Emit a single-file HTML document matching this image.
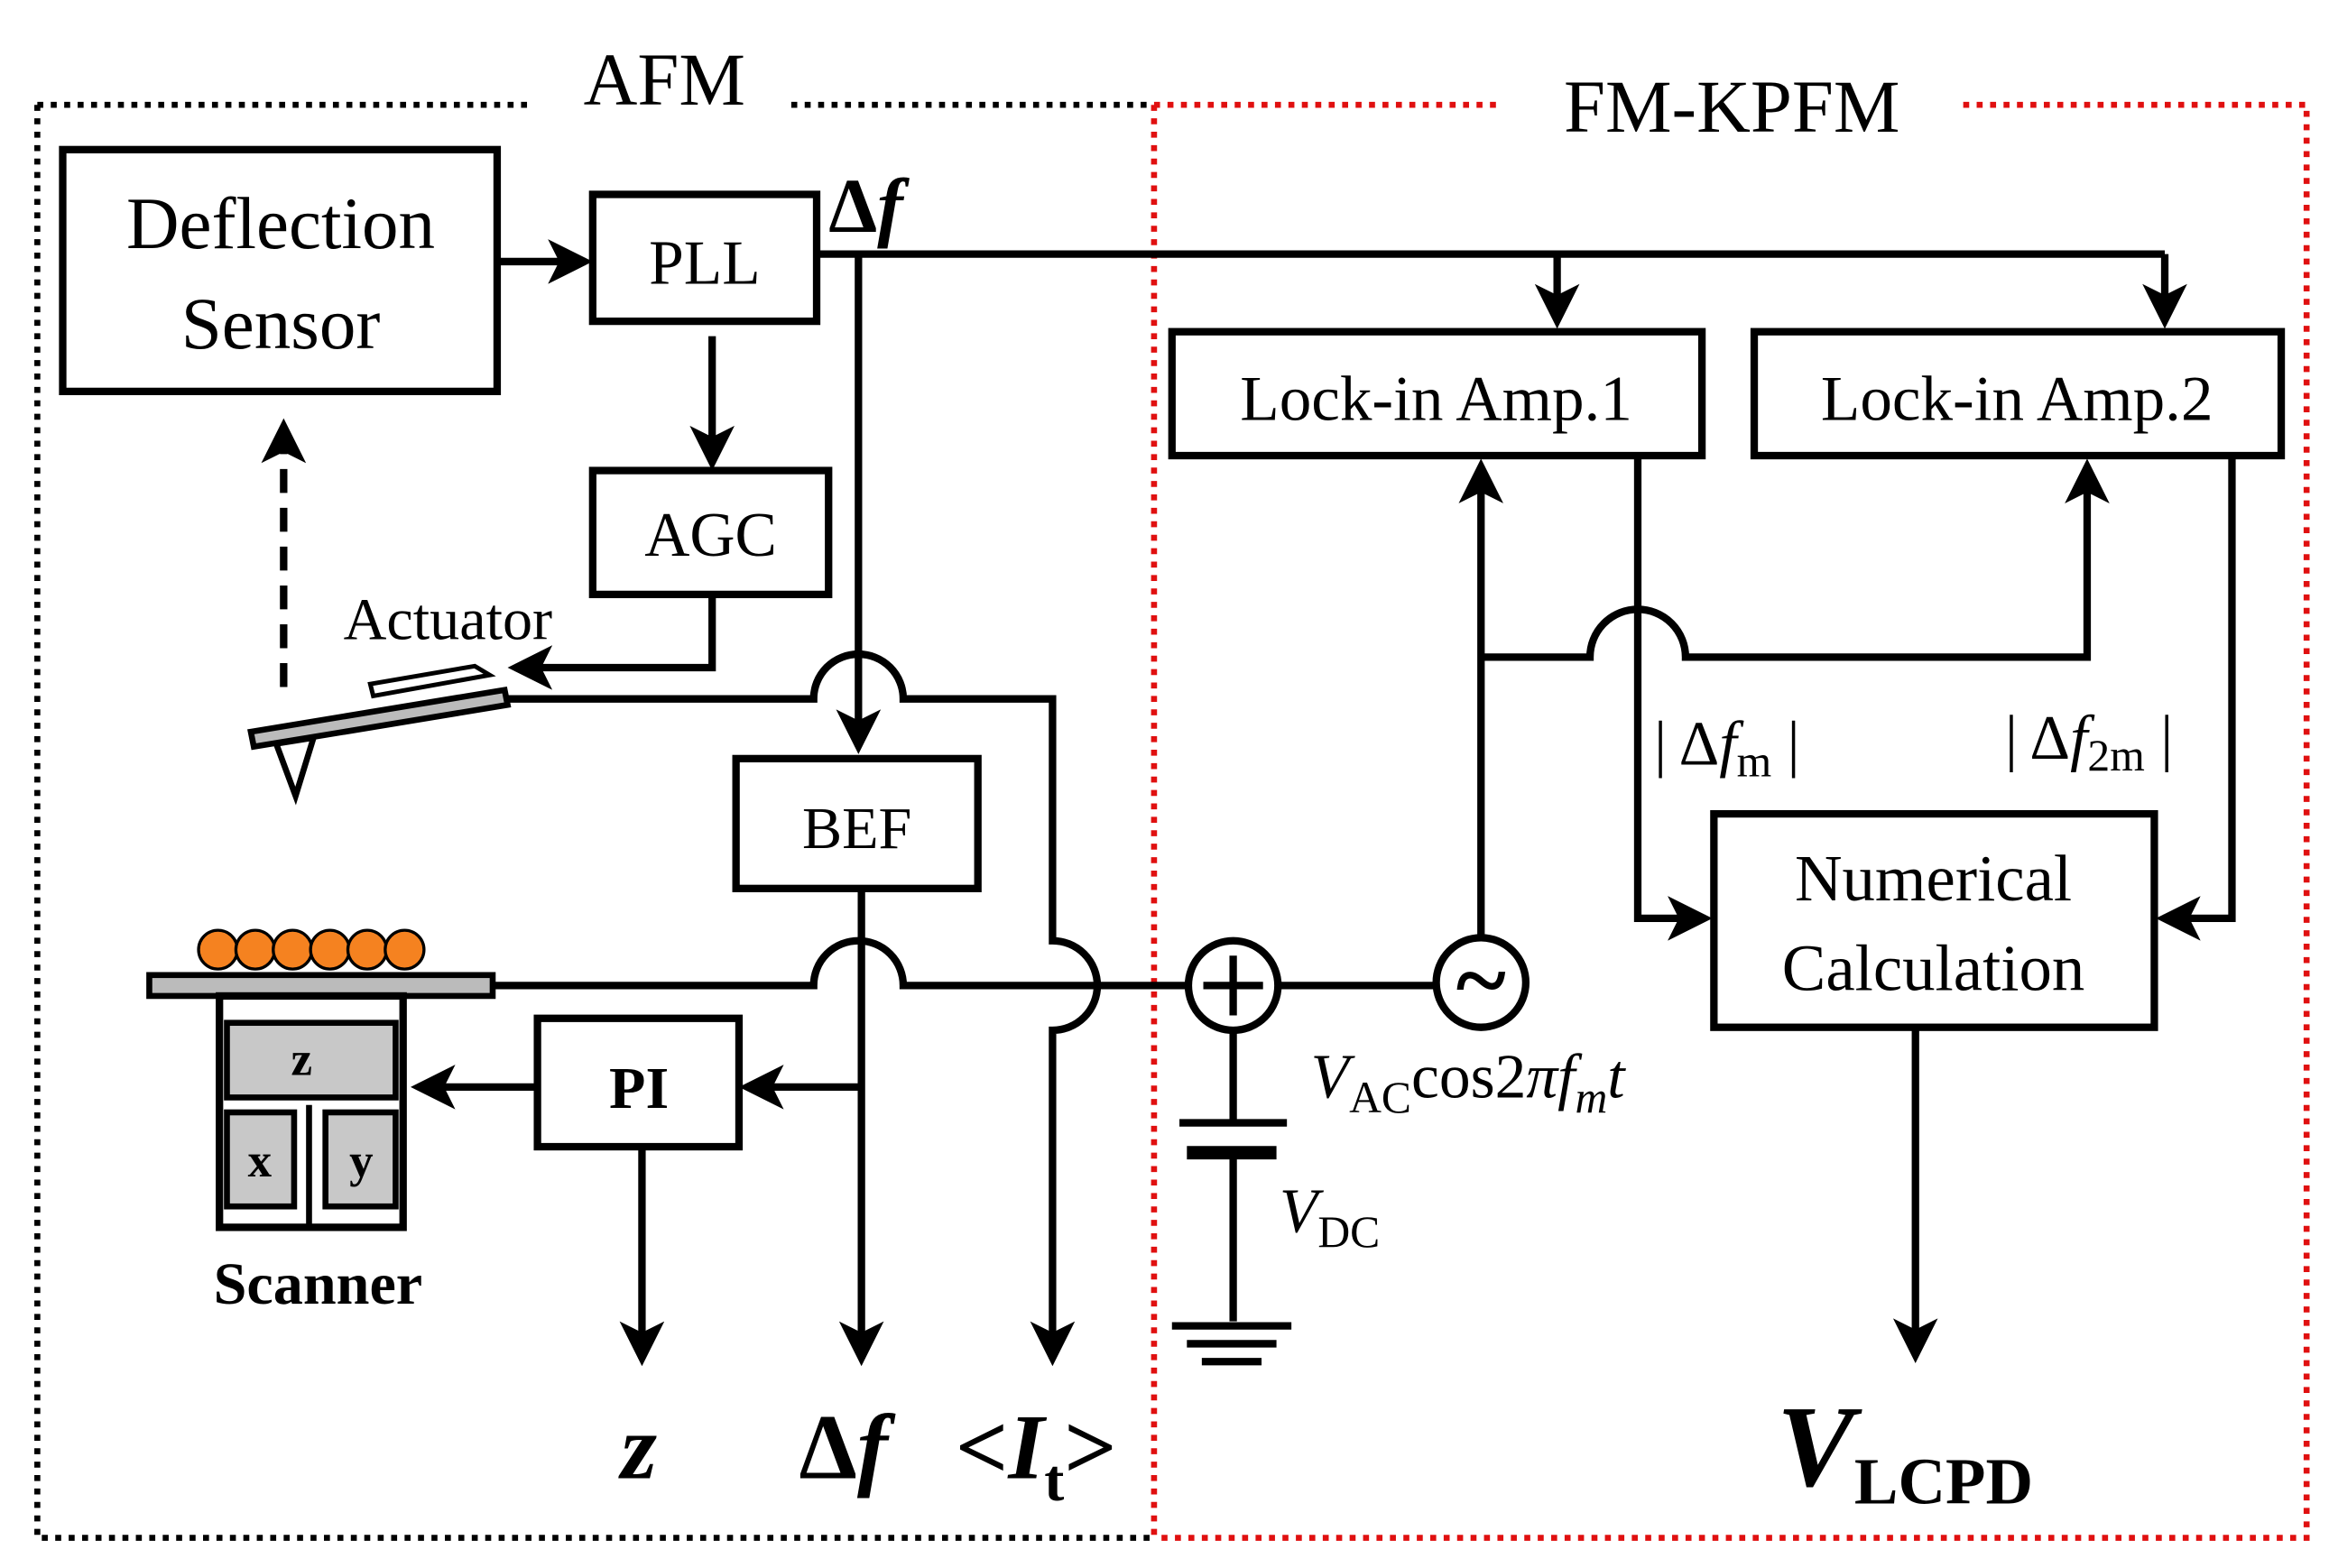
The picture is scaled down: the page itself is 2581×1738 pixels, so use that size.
<!DOCTYPE html>
<html><head><style>html,body{margin:0;padding:0;background:#fff}svg{display:block}</style></head>
<body>
<svg width="2581" height="1738" viewBox="0 0 1560 1050" xmlns="http://www.w3.org/2000/svg" font-family="Liberation Serif, serif">
<defs>
<marker id="a" markerWidth="6" markerHeight="6" refX="5" refY="3" orient="auto" markerUnits="strokeWidth"><path d="M0,0 L6,3 L0,6 L1.5,3 z" fill="#000"/></marker>
</defs>
<rect width="1560" height="1050" fill="#fff"/>
<g stroke="#000" stroke-width="4" stroke-dasharray="4,5" fill="none">
<path d="M25,70 H355 M530,70 H773 M25,70 V1030 H773"/>
</g>
<g stroke="#e01010" stroke-width="4" stroke-dasharray="4,5" fill="none">
<path d="M773,70 H1005 M1315,70 H1545 V1030 H773 M773,70 V1030"/>
</g>
<text x="445" y="70" font-size="50" text-anchor="middle">AFM</text>
<text x="1160" y="88" font-size="50" text-anchor="middle">FM-KPFM</text>

<g stroke="#000" stroke-width="5" fill="none">
<rect x="42" y="100" width="291" height="162"/>
<rect x="397" y="130" width="150" height="85"/>
<rect x="397" y="315" width="158" height="83"/>
<rect x="493" y="508" width="162" height="87"/>
<rect x="360" y="682" width="135" height="86"/>
<rect x="785" y="222" width="355" height="83"/>
<rect x="1175" y="222" width="353" height="83"/>
<rect x="1148" y="545" width="295" height="143"/>
</g>
<g font-size="49" text-anchor="middle">
<text x="188" y="166">Deflection</text>
<text x="188" y="233">Sensor</text>
</g>
<text x="472" y="190" font-size="42" text-anchor="middle">PLL</text>
<text x="476" y="372" font-size="42" text-anchor="middle">AGC</text>
<text x="574" y="568" font-size="40" text-anchor="middle">BEF</text>
<text x="428" y="742" font-size="40" font-weight="bold" text-anchor="middle">PI</text>
<text x="962" y="281" font-size="43" text-anchor="middle">Lock-in Amp.1</text>
<text x="1351" y="281" font-size="43" text-anchor="middle">Lock-in Amp.2</text>
<text x="1295" y="603" font-size="44" text-anchor="middle">Numerical</text>
<text x="1295" y="663" font-size="44" text-anchor="middle">Calculation</text>
<text x="300" y="428" font-size="40" text-anchor="middle">Actuator</text>
<text x="555" y="155" font-size="52" font-weight="bold">Δ<tspan font-style="italic">f</tspan></text>

<g stroke="#000" stroke-width="5" fill="none">
<path d="M333,175 H392" marker-end="url(#a)"/>
<path d="M547,170 H1450"/>
<path d="M1043,170 V215" marker-end="url(#a)"/>
<path d="M1450,170 V215" marker-end="url(#a)"/>
<path d="M575,170 V500" marker-end="url(#a)"/>
<path d="M477,225 V310" marker-end="url(#a)"/>
<path d="M477,398 V447 H345" marker-end="url(#a)"/>
<path d="M190,460 V285" stroke-dasharray="16,10" marker-end="url(#a)"/>
<path d="M340,468 H545 A30,30 0 0 1 605,468 H705 V630 A30,30 0 0 1 705,690 V910" marker-end="url(#a)"/>
<path d="M330,660 H545 A30,30 0 0 1 605,660 H796"/>
<path d="M577,595 V910" marker-end="url(#a)"/>
<path d="M577,728 H500" marker-end="url(#a)"/>
<path d="M360,728 H280" marker-end="url(#a)"/>
<path d="M430,768 V910" marker-end="url(#a)"/>
<circle cx="826" cy="660" r="30"/>
<path d="M826,640 V680 M806,660 H846"/>
<path d="M856,660 H962"/>
<circle cx="992" cy="658" r="30"/>
<path d="M992,628 V312" marker-end="url(#a)"/>
<path d="M992,440 H1065 A32,32 0 0 1 1129,440 H1398 V312" marker-end="url(#a)"/>
<path d="M1097,305 V615 H1142" marker-end="url(#a)"/>
<path d="M1495,305 V615 H1449" marker-end="url(#a)"/>
<path d="M1283,688 V908" marker-end="url(#a)"/>
<path d="M826,690 V752 M790,752 H862 M826,772 V885 M785,888 H865 M795,900 H855 M805,912 H845"/>
<path d="M795,772 H855" stroke-width="9"/>
</g>
<text x="992" y="678" font-size="64" text-anchor="middle" font-weight="bold">~</text>
<g stroke="#000" stroke-width="4">
<polygon points="168,490 338,462 340,472 170,500" fill="#bbb"/>
<polygon points="185,498 210,494 198,533" fill="#fff"/>
<polygon points="248,458 318,446 328,452 250,466" fill="#fff" stroke-width="3"/>
</g>
<rect x="100" y="653" width="230" height="14" fill="#bbb" stroke="#000" stroke-width="4"/>
<g fill="#f58220" stroke="#000" stroke-width="2">
<circle cx="146" cy="636" r="13"/><circle cx="171" cy="636" r="13"/><circle cx="196" cy="636" r="13"/><circle cx="221" cy="636" r="13"/><circle cx="246" cy="636" r="13"/><circle cx="271" cy="636" r="13"/>
</g>
<g stroke="#000" stroke-width="5" fill="#fff">
<rect x="147" y="667" width="123" height="155"/>
</g>
<g stroke="#000" stroke-width="4" fill="#c8c8c8">
<rect x="152" y="685" width="113" height="50"/>
<rect x="152" y="745" width="45" height="63"/>
<rect x="218" y="745" width="47" height="63"/>
</g>
<path d="M207,740 V822" stroke="#000" stroke-width="4"/>
<text x="202" y="720" font-size="32" font-weight="bold" text-anchor="middle">z</text>
<text x="174" y="788" font-size="32" font-weight="bold" text-anchor="middle">x</text>
<text x="242" y="788" font-size="32" font-weight="bold" text-anchor="middle">y</text>
<text x="213" y="873" font-size="40" font-weight="bold" text-anchor="middle">Scanner</text>
<text x="428" y="990" font-size="62" font-weight="bold" font-style="italic" text-anchor="middle">z</text>
<text x="565" y="990" font-size="62" font-weight="bold" text-anchor="middle">Δ<tspan font-style="italic">f</tspan></text>
<text x="640" y="990" font-size="62" font-weight="bold">&lt;<tspan font-style="italic">I</tspan><tspan font-size="40" dy="15">t</tspan><tspan dy="-15">&gt;</tspan></text>
<text x="1190" y="995" font-size="78" font-weight="bold" font-style="italic">V<tspan font-size="44" font-style="normal" dy="12">LCPD</tspan></text>
<text x="878" y="735" font-size="42"><tspan font-style="italic">V</tspan><tspan font-size="30" dy="10">AC</tspan><tspan dy="-10">cos2</tspan><tspan font-style="italic">πf</tspan><tspan font-style="italic" font-size="30" dy="10">m</tspan><tspan font-style="italic" dy="-10">t</tspan></text>
<text x="857" y="825" font-size="42"><tspan font-style="italic">V</tspan><tspan font-size="30" dy="10">DC</tspan></text>
<text x="1108" y="512" font-size="42">| Δ<tspan font-style="italic">f</tspan><tspan font-size="30" dy="8">m</tspan><tspan dy="-8"> |</tspan></text>
<text x="1343" y="508" font-size="42">| Δ<tspan font-style="italic">f</tspan><tspan font-size="30" dy="8">2m</tspan><tspan dy="-8"> |</tspan></text>
</svg>
</body></html>
